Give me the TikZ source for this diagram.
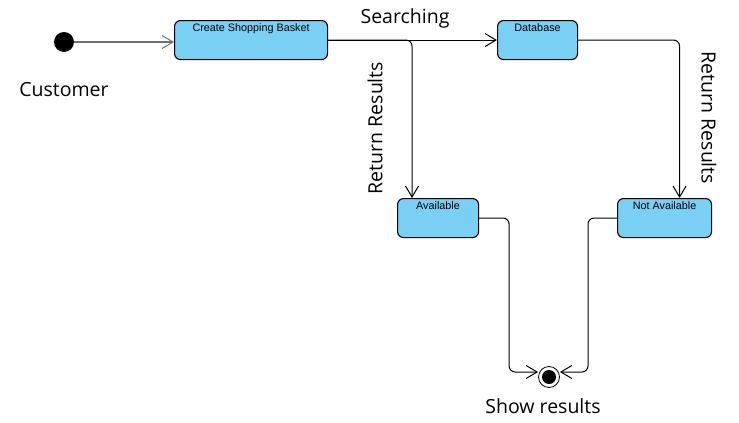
\documentclass[tikz,border=0pt]{standalone}
\usepackage{fontspec}
\setmainfont{Open Sans}
\newfontfamily\boxfont{Liberation Sans}
\usepackage{xcolor}
\usetikzlibrary{arrows.meta, positioning}
\definecolor{celeste}{RGB}{122,207,245}
\definecolor{grigio}{RGB}{112,112,112}

\begin{document}
\begin{tikzpicture}[x = 1pt, y = -1pt,
    stato/.style = {draw, line width = 1.1pt, rounded corners = 6pt, fill = celeste, anchor = north west,
        inner xsep = 0pt, inner ysep = 2pt, text height = 9pt, text depth = 26pt, font = \boxfont\fontsize{10.8}{12}\selectfont},
    inizio/.style = {circle, fill = black, minimum size = 20pt, inner sep = 0pt},
    fine/.style = {circle, draw, line width = 0.8pt, minimum size = 21pt, inner sep = 0pt,
        path picture = {\fill (path picture bounding box.center) circle (7pt);}},
    freccia/.style = {line width = 1pt, -{Straight Barb[length = 11pt, width = 13pt, line width = 1pt]}},
    etichetta/.style = {font = \fontsize{19.5}{22}\selectfont}]
    % Parametri
    \useasboundingbox (0,0) rectangle (739,423);
    % Stati
    \node[inizio] (start) at (64,42){};
    \node[stato, minimum width = 153pt] (carrello) at (174,20){Create Shopping Basket};
    \node[stato, minimum width = 80pt] (db) at (497,20){Database};
    \node[stato, minimum width = 81pt] (disp) at (397,198){Available};
    \node[stato, minimum width = 94pt] (nondisp) at (617,198){Not Available};
    \node[fine] (fine) at (549,377){};
    % Etichette
    \node[etichetta] (cliente) at (64,90){Customer};
    \node[etichetta] (mostra) at (543,406){Show results};
    \node[etichetta] (cerca) at (405,18){Searching};
    \node[etichetta, rotate = 90] (ris1) at (375,128){Return Results};
    \node[etichetta, rotate = -90] (ris2) at (709,118){Return Results};
    % Transizioni
    \draw[freccia, grigio, line width = 1.6pt] (start) -- (carrello.west |- start);
    \draw[freccia] (carrello.east) -- (db.west);
    \draw[freccia, rounded corners = 6pt] (carrello.east) -| ([xshift = 15pt]disp.north west);
    \draw[freccia, rounded corners = 6pt] (db.east) -| ([xshift = 15pt]nondisp.north);
    \draw[freccia, rounded corners = 6pt] (disp.east) -- ++(30,0) |- ([yshift = 5pt]fine.west);
    \draw[freccia, rounded corners = 6pt] (nondisp.west) -- ++(-29,0) |- ([yshift = 5pt]fine.east);
\end{tikzpicture}
\end{document}
